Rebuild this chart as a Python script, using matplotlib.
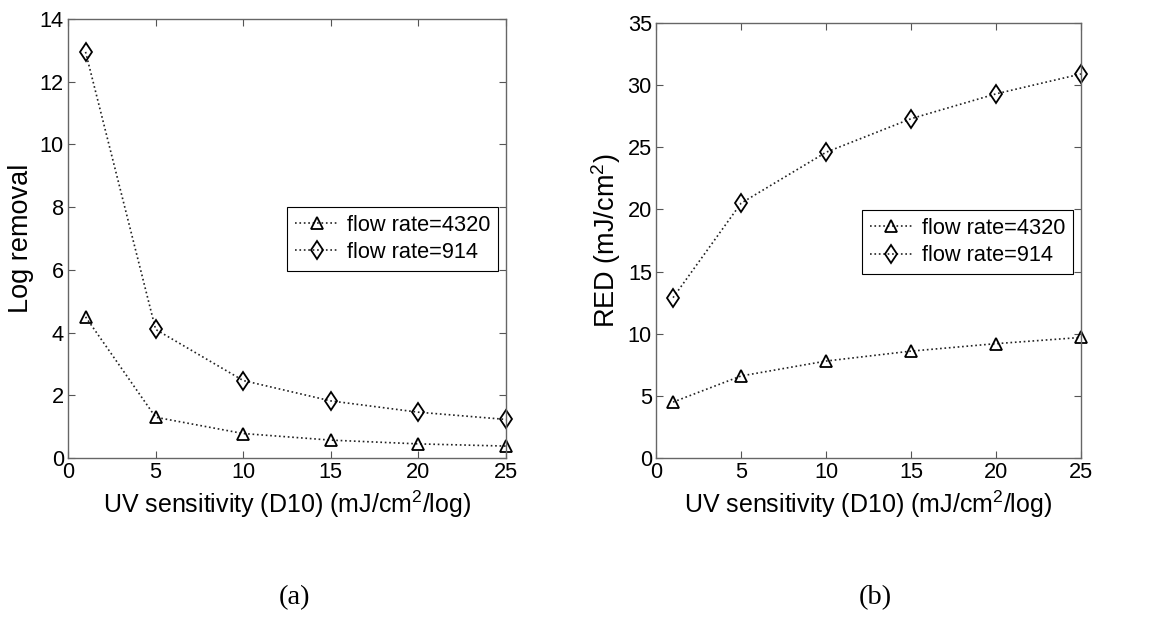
import numpy as np
import matplotlib
matplotlib.use('Agg')
import matplotlib.pyplot as plt

plt.rcParams['font.family'] = ['Liberation Sans', 'DejaVu Sans']
plt.rcParams['mathtext.fontset'] = 'custom'
plt.rcParams['mathtext.rm'] = 'Liberation Sans'

d10 = [1, 5, 10, 15, 20, 25]
# panel (a): log removal
logrem_4320 = [4.5, 1.3, 0.78, 0.57, 0.45, 0.38]
logrem_914 = [12.95, 4.1, 2.47, 1.82, 1.46, 1.23]
# panel (b): RED
red_4320 = [4.5, 6.6, 7.8, 8.6, 9.2, 9.7]
red_914 = [12.9, 20.5, 24.6, 27.3, 29.3, 30.9]

fs = 15.7      # ticks + legend
xfs = 18       # x label
yfs = 19.5     # y label
xlab = r'UV sensitivity (D10) (mJ/cm$^\mathrm{2}$/log)'

fig = plt.figure(figsize=(11.69, 6.18), dpi=100)
ax1 = fig.add_axes([0.0582, 0.2589, 0.3747, 0.7104])
ax2 = fig.add_axes([0.5612, 0.2589, 0.3636, 0.7039])

def style(ax, ymax, yticks):
    ax.set_xlim(0, 25)
    ax.set_ylim(0, ymax)
    ax.set_xticks([0, 5, 10, 15, 20, 25])
    ax.set_yticks(yticks)
    ax.tick_params(direction='in', top=True, right=True, labelsize=fs,
                   length=5, width=0.8, color='#555555', pad=3)
    for s in ax.spines.values():
        s.set_color('#666666')
        s.set_linewidth(1.0)
    ax.set_xlabel(xlab, fontsize=xfs, labelpad=4)

def draw(ax, a, b):
    ax.plot(d10, a, ls=':', color='#222222', lw=1.2, marker='^', ms=9,
            mfc='none', mec='k', mew=1.3, label='flow rate=4320', clip_on=False)
    ax.plot(d10, b, ls=':', color='#222222', lw=1.2, marker='d', ms=9.5,
            mfc='none', mec='k', mew=1.3, label='flow rate=914', clip_on=False)

def legend(ax, anchor):
    leg = ax.legend(loc='upper right', bbox_to_anchor=anchor, fontsize=fs,
                    fancybox=False, edgecolor='k', framealpha=1, borderaxespad=0,
                    handlelength=2.0, handletextpad=0.4, labelspacing=0.3,
                    borderpad=0.35)
    leg.get_frame().set_linewidth(0.8)

draw(ax1, logrem_4320, logrem_914)
style(ax1, 14, [0, 2, 4, 6, 8, 10, 12, 14])
ax1.set_ylabel('Log removal', fontsize=yfs, labelpad=4)
legend(ax1, (0.982, 0.572))

draw(ax2, red_4320, red_914)
style(ax2, 35, [0, 5, 10, 15, 20, 25, 30, 35])
ax2.set_ylabel(r'RED (mJ/cm$^\mathrm{2}$)', fontsize=yfs, labelpad=3)
legend(ax2, (0.981, 0.570))

fig.text(295 / 1169, 1 - 598 / 618, '(a)', ha='center', va='center',
         fontsize=20.5, family=['Liberation Serif'])
fig.text(875 / 1169, 1 - 598 / 618, '(b)', ha='center', va='center',
         fontsize=20.5, family=['Liberation Serif'])

fig.savefig('out.png', dpi=100)
